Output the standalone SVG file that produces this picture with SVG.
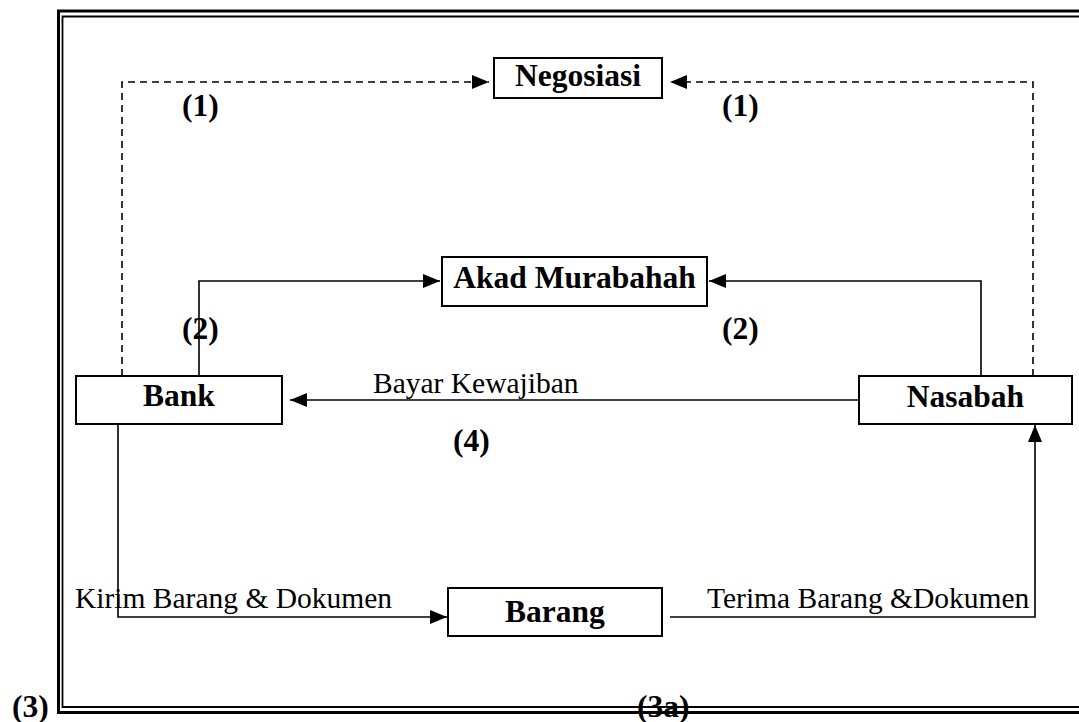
<svg xmlns="http://www.w3.org/2000/svg" width="1079" height="722" viewBox="0 0 1079 722">
<style>
.box{fill:#fff;stroke:#000;stroke-width:2}
.b{font-family:"Liberation Serif","Times New Roman",serif;font-weight:bold;font-size:31.5px;fill:#000}
.r{font-family:"Liberation Serif","Times New Roman",serif;font-size:29.5px;fill:#000}
.c{fill:none;stroke:#000;stroke-width:1.6}
.d{stroke-dasharray:7 5}
</style>
<defs>
<marker id="ah" markerUnits="userSpaceOnUse" markerWidth="18" markerHeight="14" viewBox="0 0 18 14" refX="17" refY="7" orient="auto">
<path d="M0,0 L17,7 L0,14 Z" fill="#000"/>
</marker>
</defs>
<rect width="1079" height="722" fill="#fff"/>
<g id="frame" fill="none" stroke="#000">
<path d="M1085,11 H58.5 V712.5 H1085" stroke-width="3"/>
<path d="M1085,16.5 H62.5 V707 H1085" stroke-width="1.8"/>
</g>
<g id="connectors">
<path class="c d" d="M122,376 V82 H489" marker-end="url(#ah)"/>
<path class="c d" d="M1033,376 V82 H670" marker-end="url(#ah)"/>
<path class="c" d="M199,376 V281 H440" marker-end="url(#ah)"/>
<path class="c" d="M981,376 V281 H709" marker-end="url(#ah)"/>
<path class="c" d="M859,400 H290" marker-end="url(#ah)"/>
<path class="c" d="M118,424 V617 H447" marker-end="url(#ah)"/>
<path class="c" d="M670,617 H1035 V425" marker-end="url(#ah)"/>
</g>
<g id="negosiasi">
<rect class="box" x="494" y="58" width="168" height="40"/>
<text class="b" x="578" y="86" text-anchor="middle">Negosiasi</text>
</g>
<g id="akad">
<rect class="box" x="442" y="257" width="265" height="49"/>
<text class="b" x="574.5" y="288" text-anchor="middle">Akad Murabahah</text>
</g>
<g id="bank">
<rect class="box" x="76" y="376" width="206" height="48"/>
<text class="b" x="179" y="406" text-anchor="middle">Bank</text>
</g>
<g id="nasabah">
<rect class="box" x="859" y="376" width="213" height="48"/>
<text class="b" x="965.5" y="407" text-anchor="middle">Nasabah</text>
</g>
<g id="barang">
<rect class="box" x="448" y="588" width="214" height="48"/>
<text class="b" x="555" y="622" text-anchor="middle">Barang</text>
</g>
<g id="labels">
<text class="b" x="182" y="116">(1)</text>
<text class="b" x="722" y="116">(1)</text>
<text class="b" x="182" y="339">(2)</text>
<text class="b" x="722" y="339">(2)</text>
<text class="b" x="453" y="451">(4)</text>
<text class="b" x="12" y="717">(3)</text>
<text class="b" x="637" y="717">(3a)</text>
<text class="r" x="373" y="393">Bayar Kewajiban</text>
<text class="r" x="75" y="608">Kirim Barang &amp; Dokumen</text>
<text class="r" x="707" y="608">Terima Barang &amp;Dokumen</text>
</g>
</svg>
